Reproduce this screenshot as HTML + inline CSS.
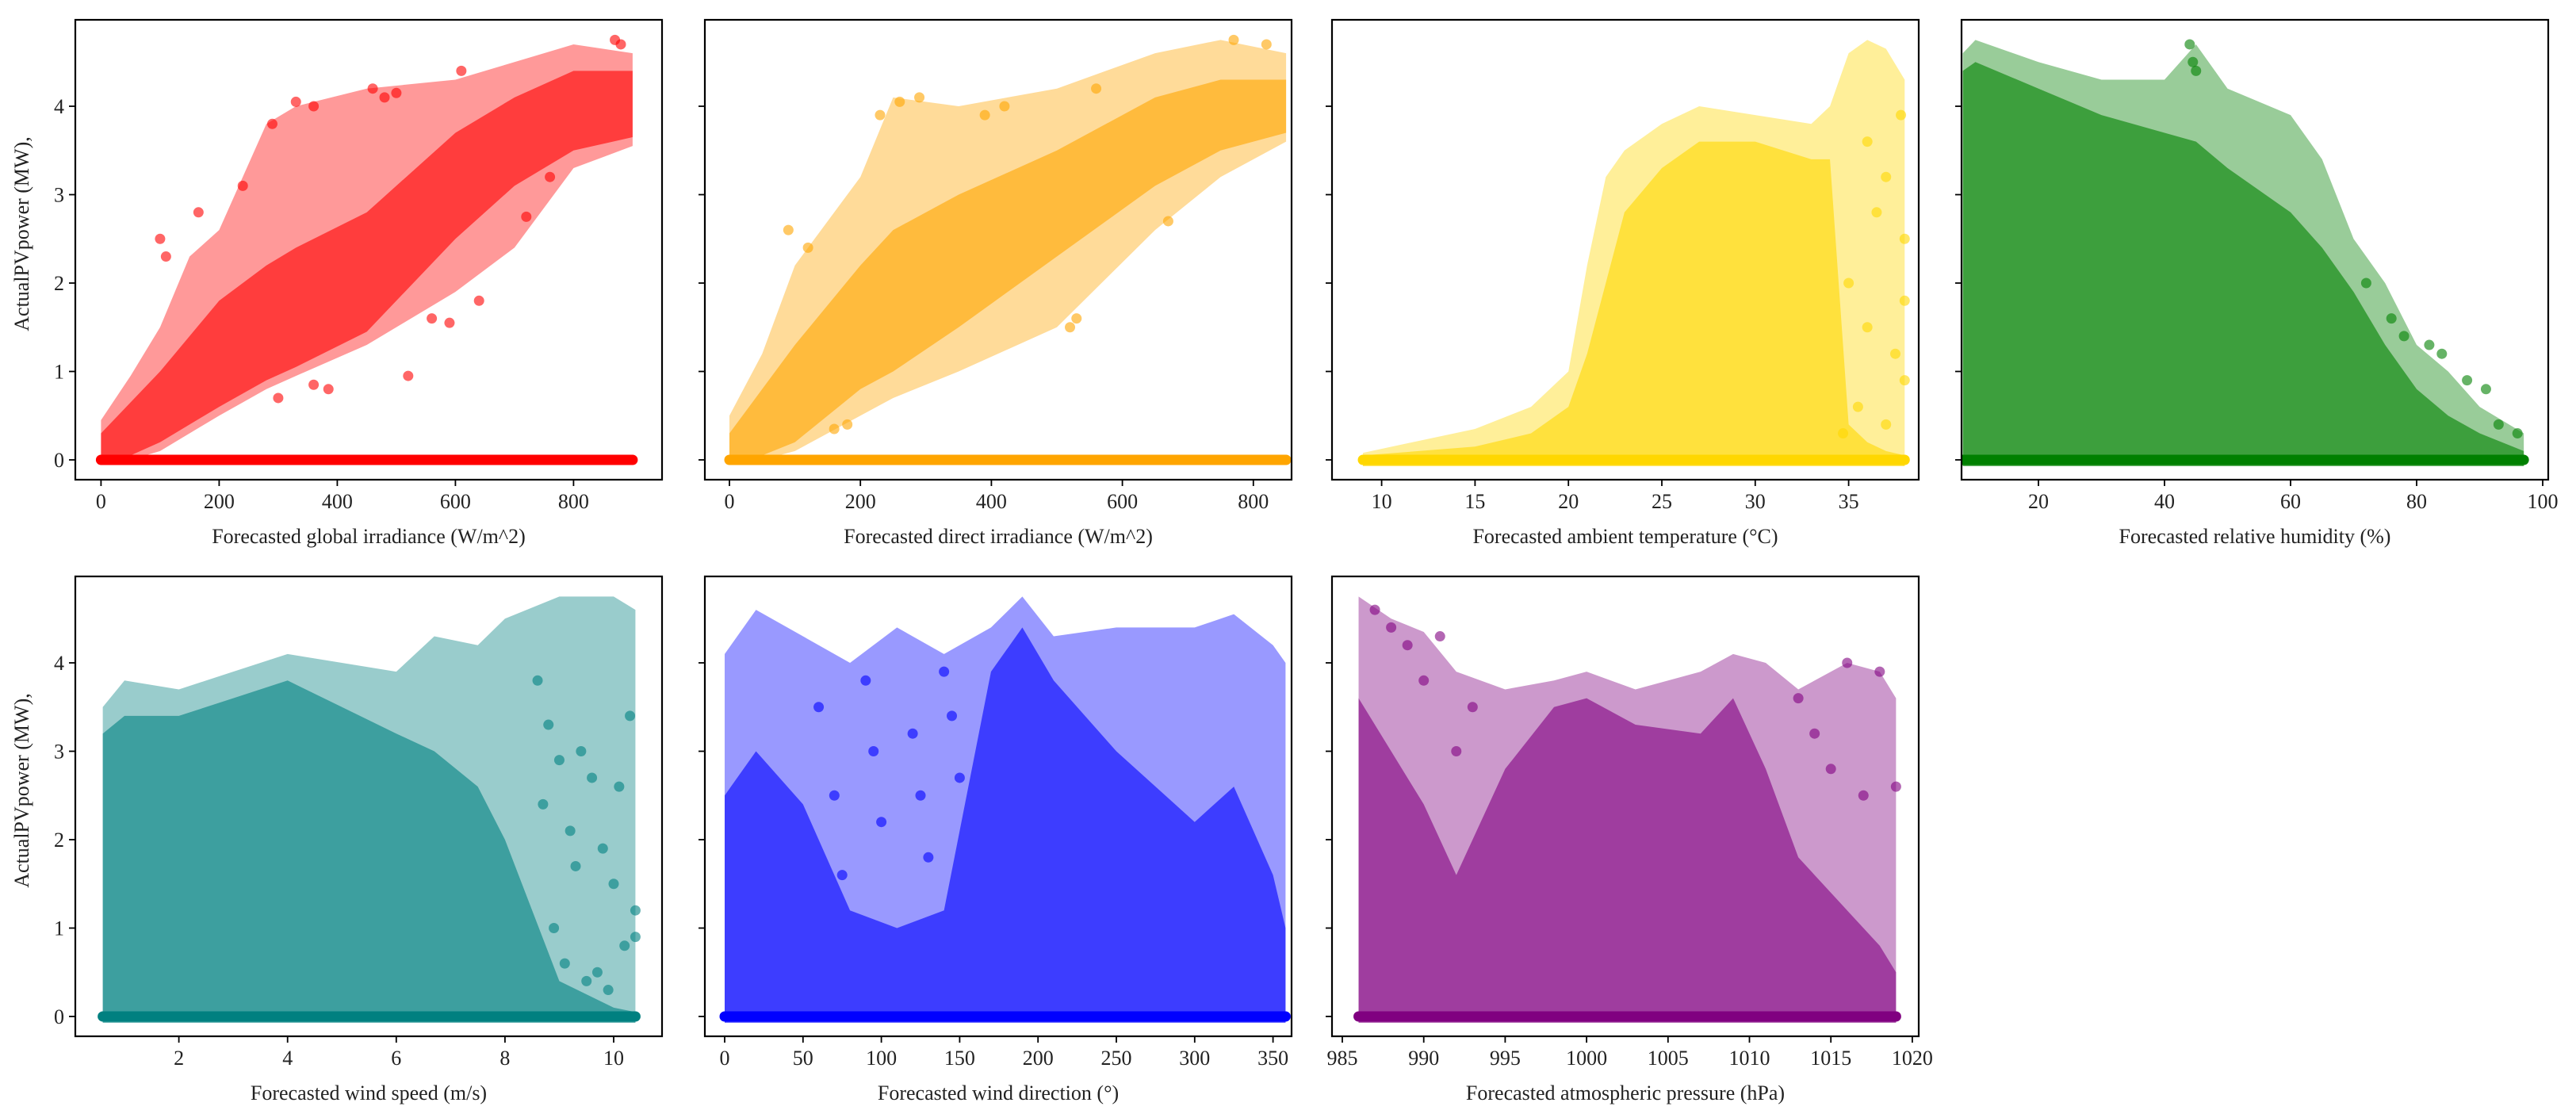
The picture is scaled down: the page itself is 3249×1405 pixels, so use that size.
<!DOCTYPE html>
<html><head><meta charset="utf-8"><style>
html,body{margin:0;padding:0;background:#fff}
svg{display:block}
text{font-family:"Liberation Serif",serif;fill:#222}
</style></head><body>
<svg id="fig" width="3249" height="1405" viewBox="0 0 3249 1405" xmlns="http://www.w3.org/2000/svg"></svg>
<script>
// ---- data (envelopes in data units, outlier points) ----
const p1EnvX=[0,50,100,150,200,280,330,450,600,700,800,900];
const p1OuterHi=[0.45,0.95,1.5,2.3,2.6,3.8,4.0,4.2,4.3,4.5,4.7,4.6];
const p1OuterLo=[0,0,0.1,0.3,0.5,0.8,0.95,1.3,1.9,2.4,3.3,3.55];
const p1CoreHi=[0.3,0.65,1.0,1.4,1.8,2.2,2.4,2.8,3.7,4.1,4.4,4.4];
const p1CoreLo=[0,0.05,0.2,0.4,0.6,0.9,1.05,1.45,2.5,3.1,3.5,3.65];
const p1PtsX=[100,110,165,290,330,360,460,480,500,610,590,720,760,870,880,385,360,300,240,640,560,520];
const p1PtsY=[2.5,2.3,2.8,3.8,4.05,4.0,4.2,4.1,4.15,4.4,1.55,2.75,3.2,4.75,4.7,0.8,0.85,0.7,3.1,1.8,1.6,0.95];

const p2EnvX=[0,50,100,200,250,350,500,650,750,850];
const p2OuterHi=[0.5,1.2,2.2,3.2,4.1,4.0,4.2,4.6,4.75,4.6];
const p2OuterLo=[0,0,0.1,0.5,0.7,1.0,1.5,2.6,3.2,3.6];
const p2CoreHi=[0.3,0.8,1.3,2.2,2.6,3.0,3.5,4.1,4.3,4.3];
const p2CoreLo=[0,0.05,0.2,0.8,1.0,1.5,2.3,3.1,3.5,3.7];
const p2PtsX=[90,120,230,260,290,390,420,520,530,560,670,770,820,180,160];
const p2PtsY=[2.6,2.4,3.9,4.05,4.1,3.9,4.0,1.5,1.6,4.2,2.7,4.75,4.7,0.4,0.35];

const p3EnvX=[9,15,18,20,21,22,23,25,27,30,33,34,35,36,37,38];
const p3OuterHi=[0.08,0.35,0.6,1.0,2.2,3.2,3.5,3.8,4.0,3.9,3.8,4.0,4.6,4.75,4.65,4.3];
const p3CoreHi=[0.05,0.15,0.3,0.6,1.2,2.0,2.8,3.3,3.6,3.6,3.4,3.4,0.4,0.2,0.1,0.05];
const p3PtsX=[36,37,38,38,37.5,36.5,35.5,38,37,36,37.8,35,34.7];
const p3PtsY=[3.6,3.2,2.5,1.8,1.2,2.8,0.6,0.9,0.4,1.5,3.9,2.0,0.3];

const p4EnvX=[8,10,20,30,40,45,50,60,65,70,75,80,85,90,97];
const p4OuterHi=[4.6,4.75,4.5,4.3,4.3,4.7,4.2,3.9,3.4,2.5,2.0,1.3,1.0,0.6,0.3];
const p4CoreHi=[4.4,4.5,4.2,3.9,3.7,3.6,3.3,2.8,2.4,1.9,1.3,0.8,0.5,0.3,0.1];
const p4PtsX=[44,44.5,45,82,84,88,91,93,96,72,76,78];
const p4PtsY=[4.7,4.5,4.4,1.3,1.2,0.9,0.8,0.4,0.3,2.0,1.6,1.4];

const p5EnvX=[0.6,1,2,3,4,5,6,6.7,7.5,8,9,10,10.4];
const p5OuterHi=[3.5,3.8,3.7,3.9,4.1,4.0,3.9,4.3,4.2,4.5,4.75,4.75,4.6];
const p5CoreHi=[3.2,3.4,3.4,3.6,3.8,3.5,3.2,3.0,2.6,2.0,0.4,0.1,0.05];
const p5PtsX=[8.6,8.8,9,9.2,9.4,9.6,9.8,10,10.2,10.4,9.1,9.5,9.9,10.3,8.9,9.7,10.1,10.4,9.3,8.7];
const p5PtsY=[3.8,3.3,2.9,2.1,3.0,2.7,1.9,1.5,0.8,1.2,0.6,0.4,0.3,3.4,1.0,0.5,2.6,0.9,1.7,2.4];

const p6EnvX=[0,20,50,80,110,140,170,190,210,250,300,325,350,358];
const p6OuterHi=[4.1,4.6,4.3,4.0,4.4,4.1,4.4,4.75,4.3,4.4,4.4,4.55,4.2,4.0];
const p6CoreHi=[2.5,3.0,2.4,1.2,1.0,1.2,3.9,4.4,3.8,3.0,2.2,2.6,1.6,1.0];
const p6PtsX=[60,70,90,100,120,130,140,150,75,95,125,145];
const p6PtsY=[3.5,2.5,3.8,2.2,3.2,1.8,3.9,2.7,1.6,3.0,2.5,3.4];

const p7EnvX=[986,988,990,992,995,998,1000,1003,1007,1009,1011,1013,1016,1018,1019];
const p7OuterHi=[4.75,4.5,4.35,3.9,3.7,3.8,3.9,3.7,3.9,4.1,4.0,3.7,4.0,3.9,3.6];
const p7CoreHi=[3.6,3.0,2.4,1.6,2.8,3.5,3.6,3.3,3.2,3.6,2.8,1.8,1.2,0.8,0.5];
const p7PtsX=[987,988,989,991,993,1014,1015,1016,1017,1018,1019,1013,992,990];
const p7PtsY=[4.6,4.4,4.2,4.3,3.5,3.2,2.8,4.0,2.5,3.9,2.6,3.6,3.0,3.8];

const yTicks=[0,1,2,3,4];
const p1Ticks=[0,200,400,600,800];
const p2Ticks=[0,200,400,600,800];
const p3Ticks=[10,15,20,25,30,35];
const p4Ticks=[20,40,60,80,100];
const p5Ticks=[2,4,6,8,10];
const p6Ticks=[0,50,100,150,200,250,300,350];
const p7Ticks=[985,990,995,1000,1005,1010,1015,1020];

// ---- layout ----
const NS="http://www.w3.org/2000/svg";
const svg=document.getElementById('fig');
function mk(tag,attrs,parent){const e=document.createElementNS(NS,tag);for(const k in attrs)e.setAttribute(k,attrs[k]);(parent||svg).appendChild(e);return e;}
const W=740;
const panels=[
 {id:'global-irradiance',left:95,top:25,h:580,y0:580,x0:0,x0px:127.4,s:0.745,ticks:p1Ticks,ex:p1EnvX,oh:p1OuterHi,ol:p1OuterLo,ch:p1CoreHi,cl:p1CoreLo,px:p1PtsX,py:p1PtsY,col:'#ff0000',label:'Forecasted global irradiance (W/m^2)',ylab:true},
 {id:'direct-irradiance',left:889,top:25,h:580,y0:580,x0:0,x0px:920,s:0.826,ticks:p2Ticks,ex:p2EnvX,oh:p2OuterHi,ol:p2OuterLo,ch:p2CoreHi,cl:p2CoreLo,px:p2PtsX,py:p2PtsY,col:'#ffa500',label:'Forecasted direct irradiance (W/m^2)'},
 {id:'ambient-temperature',left:1680,top:25,h:580,y0:580,x0:10,x0px:1742.6,s:23.56,ticks:p3Ticks,ex:p3EnvX,oh:p3OuterHi,ch:p3CoreHi,px:p3PtsX,py:p3PtsY,col:'#ffd700',label:'Forecasted ambient temperature (°C)'},
 {id:'relative-humidity',left:2474,top:25,h:580,y0:580,x0:20,x0px:2571,s:7.95,ticks:p4Ticks,ex:p4EnvX,oh:p4OuterHi,ch:p4CoreHi,px:p4PtsX,py:p4PtsY,col:'#008000',label:'Forecasted relative humidity (%)'},
 {id:'wind-speed',left:95,top:727,h:580,y0:1282,x0:2,x0px:225.6,s:68.55,ticks:p5Ticks,ex:p5EnvX,oh:p5OuterHi,ch:p5CoreHi,px:p5PtsX,py:p5PtsY,col:'#008080',label:'Forecasted wind speed (m/s)',ylab:true},
 {id:'wind-direction',left:889,top:727,h:580,y0:1282,x0:0,x0px:914,s:1.976,ticks:p6Ticks,ex:p6EnvX,oh:p6OuterHi,ch:p6CoreHi,px:p6PtsX,py:p6PtsY,col:'#0000ff',label:'Forecasted wind direction (°)'},
 {id:'atmospheric-pressure',left:1680,top:727,h:580,y0:1282,x0:985,x0px:1693,s:20.54,ticks:p7Ticks,ex:p7EnvX,oh:p7OuterHi,ch:p7CoreHi,px:p7PtsX,py:p7PtsY,col:'#800080',label:'Forecasted atmospheric pressure (hPa)'}
];
const YS=111.5;
panels.forEach((p,i)=>{
 const X=v=>p.x0px+(v-p.x0)*p.s;
 const Y=v=>p.y0-v*YS;
 const g=mk('g',{});
 
 
 const cp=mk('clipPath',{id:'cp'+i},g);
 mk('rect',{x:p.left,y:p.top,width:W,height:p.h},cp);
 const marks=mk('g',{'clip-path':'url(#cp'+i+')'},g);
 
 
 const lo=p.ol||p.ex.map(()=>-0.07);
 const clo=p.cl||p.ex.map(()=>-0.07);
 function env(hi,low,op,name){
  let pts=p.ex.map((x,k)=>X(x)+','+Y(hi[k]));
  for(let k=p.ex.length-1;k>=0;k--)pts.push(X(p.ex[k])+','+Y(low[k]));
  const e=mk('polygon',{points:pts.join(' '),fill:p.col,'fill-opacity':op,stroke:'none'},marks);
  
  
 }
 env(p.oh,lo,0.4,'scatter-envelope');
 env(p.ch,clo,0.6,'scatter-core');
 const b=mk('line',{x1:X(p.ex[0]),x2:X(p.ex[p.ex.length-1]),y1:Y(0),y2:Y(0),stroke:p.col,'stroke-width':13,'stroke-linecap':'round'},marks);
 
 
 p.px.forEach((x,k)=>{
  const c=mk('circle',{cx:X(x),cy:Y(p.py[k]),r:6.5,fill:p.col,'fill-opacity':0.6},marks);
  
  
 });
 const fr=mk('rect',{x:p.left,y:p.top,width:W,height:p.h,fill:'none',stroke:'#000','stroke-width':2.2},g);
 
 
 const bot=p.top+p.h;
 p.ticks.forEach(t=>{
  const x=X(t);
  mk('line',{x1:x,x2:x,y1:bot,y2:bot+8,stroke:'#000','stroke-width':1.8},g);
  const tx=mk('text',{x:x,y:bot+36,'font-size':26,'text-anchor':'middle'},g);
  tx.textContent=t;
  
  
 });
 yTicks.forEach(t=>{
  const y=Y(t);
  mk('line',{x1:p.left-8,x2:p.left,y1:y,y2:y,stroke:'#000','stroke-width':1.8},g);
  if(p.ylab){
   const ty=mk('text',{x:p.left-14,y:y+9,'font-size':26,'text-anchor':'end'},g);
   ty.textContent=t;
   
   
  }
 });
 const xl=mk('text',{x:p.left+W/2,y:bot+80,'font-size':26,'text-anchor':'middle'},g);
 xl.textContent=p.label;
 
 
 if(p.ylab){
  const cy=p.top+p.h/2-20;
  const yl=mk('text',{x:0,y:0,'font-size':26,'text-anchor':'middle',transform:'translate(36,'+cy+') rotate(-90)'},g);
  yl.textContent='ActualPVpower (MW),';
  
  
 }
});
</script>
</body></html>
